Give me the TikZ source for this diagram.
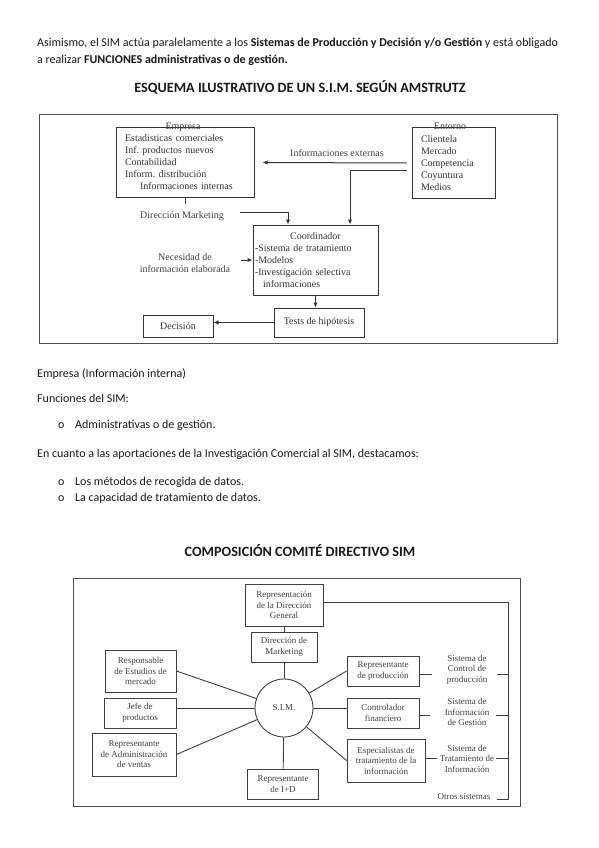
\documentclass[tikz,border=0pt]{standalone}
\usepackage{fontspec}
\setmainfont{Carlito}
\newfontfamily\tnr{Liberation Serif}
\usetikzlibrary{arrows.meta,calc}
\frenchspacing
\begin{document}
\begin{tikzpicture}[x=1pt,y=-1pt,
  body/.style={anchor=base west, inner sep=0, font=\fontsize{12}{14}\selectfont, text=black!90},
  ttl/.style={anchor=base, inner sep=0, font=\bfseries\fontsize{14.2}{16}\selectfont, text=black!90},
  frm/.style={draw=black!70, line width=0.9pt},
  bx/.style={draw=black!80, line width=1pt, inner sep=0, align=left, font=\tnr\fontsize{10}{12}\selectfont, text=black!80},
  lbl/.style={inner sep=0, align=center, font=\tnr\fontsize{10}{12}\selectfont, text=black!75},
  bxb/.style={draw=black!75, line width=0.9pt, inner sep=0, align=center, font=\tnr\fontsize{9}{10.5}\selectfont, text=black!75},
  lbb/.style={inner sep=0, align=center, font=\tnr\fontsize{9}{10.5}\selectfont, text=black!75},
  ln/.style={draw=black!75, line width=0.9pt},
  arr/.style={draw=black!80, line width=1pt, -{Latex[length=5pt,width=4.5pt]}}
]
\useasboundingbox (0,0) rectangle (599,848);
\fill[white] (0,0) rectangle (599,848);

% ---------- text above ----------
\node[body] (t1) at (37,47) {Asimismo, el SIM actúa paralelamente a los \textbf{Sistemas de Producción y Decisión y/o Gestión} y está obligado};
\node[body] (t2) at (37,64) {a realizar \textbf{FUNCIONES administrativas o de gestión.}};
\node[ttl] (h1) at (300,93) {ESQUEMA ILUSTRATIVO DE UN S.I.M. SEGÚN AMSTRUTZ};

% ---------- diagram 1 ----------
\node[frm, minimum width=518pt, minimum height=229pt, inner sep=0] (f1) at (298.5,228.5) {};

\node[bx, minimum width=138pt, minimum height=69pt, text width=120pt] (emp) at (185,162.5)
  {Estadisticas comerciales\\Inf. productos nuevos\\Contabilidad\\Inform. distribución\\\hspace*{15pt}Informaciones internas};
\node[lbl, anchor=base] (lemp) at (183,129) {Empresa};

\node[bx, minimum width=83pt, minimum height=70pt, text width=65pt] (ent) at (453.5,163)
  {Clientela\\Mercado\\Competencia\\Coyuntura\\Medios};
\node[lbl, anchor=base] (lent) at (450,129) {Entorno};

\node[bx, minimum width=125pt, minimum height=70pt, text width=121pt] (coord) at (315.5,260)
  {\makebox[121pt][c]{Coordinador}\\-Sistema de tratamiento\\-Modelos\\-Investigación selectiva\\\hspace*{8pt}informaciones};

\node[bx, minimum width=90pt, minimum height=29pt, align=center] (tests) at (319,322.5) {Tests de hipótesis};
\node[bx, minimum width=70pt, minimum height=22pt, align=center] (dec) at (178,326) {Decisión};

\node[lbl] (lie) at (337,153) {Informaciones externas};
\node[lbl] (ldm) at (182,216) {Dirección Marketing};
\node[lbl] (lnec) at (185,263) {Necesidad de\\información elaborada};

\coordinate (dmA) at (240,212);
\coordinate (necA) at (241,260);

\draw[ln] (emp.south) -- ++(0,6);
\draw[arr] ([xshift=-5pt]ent.west) -- ([xshift=8pt]emp.east);
\draw[arr] ([xshift=-5pt,yshift=-7pt]ent.west) -| ([xshift=34.5pt]coord.north);
\draw[arr] (dmA) -| ([xshift=-27.5pt]coord.north);
\draw[arr] (necA) -- (coord.west);
\draw[arr] (coord.south) -- (coord.south |- tests.north);
\draw[arr] (tests.west) -- (tests.west -| dec.east);

% ---------- text middle ----------
\node[body] (t3) at (37,377) {Empresa (Información interna)};
\node[body] (t4) at (37,402) {Funciones del SIM:};
\node[body] (b1) at (58,428) {o};
\node[body] (t5) at (75,428) {Administrativas o de gestión.};
\node[body] (t6) at (37,457) {En cuanto a las aportaciones de la Investigación Comercial al SIM, destacamos:};
\node[body] (b2) at (58,485) {o};
\node[body] (t7) at (75,485) {Los métodos de recogida de datos.};
\node[body] (b3) at (58,501) {o};
\node[body] (t8) at (75,501) {La capacidad de tratamiento de datos.};

\node[ttl] (h2) at (300,556) {COMPOSICIÓN COMITÉ DIRECTIVO SIM};

% ---------- diagram 2 ----------
\node[frm, minimum width=447pt, minimum height=228pt, inner sep=0] (f2) at (296.5,692) {};

\node[bxb, minimum width=78pt, minimum height=42pt] (rdg) at (284,605) {Representación\\de la Dirección\\General};
\node[bxb, minimum width=66pt, minimum height=30pt] (dmk) at (284,647) {Dirección de\\Marketing};
\node[bxb, circle, minimum size=58pt] (sim) at (284,708) {S.I.M.};
\node[bxb, minimum width=71pt, minimum height=30pt] (rid) at (283,784) {Representante\\de I+D};

\node[bxb, minimum width=71pt, minimum height=42pt] (rem) at (140.5,671) {Responsable\\de Estudios de\\mercado};
\node[bxb, minimum width=72pt, minimum height=30pt] (jp) at (140,713) {Jefe de\\productos};
\node[bxb, minimum width=84pt, minimum height=43pt] (rav) at (134,754.5) {Representante\\de Administración\\de ventas};

\node[bxb, minimum width=72pt, minimum height=30pt] (rpr) at (383,671) {Representante\\de producción};
\node[bxb, minimum width=72pt, minimum height=30pt] (cf) at (383,713) {Controlador\\financiero};
\node[bxb, minimum width=78pt, minimum height=43pt] (esp) at (386,760.5) {Especialistas de\\tratamiento de la\\información};

\node[lbb] (scp) at (467,669.5) {Sistema de\\Control de\\producción};
\node[lbb] (sig) at (467,712) {Sistema de\\Información\\de Gestión};
\node[lbb] (stg) at (467,758.5) {Sistema de\\Tratamiento de\\Información};
\node[lbb] (otr) at (464,797) {Otros sistemas};

\draw[ln] (rdg) -- (dmk);
\draw[ln] (dmk) -- (sim);
\draw[ln] (sim) -- (rid);
\draw[ln] (sim) -- (rem.east);
\draw[ln] (sim) -- (jp.east |- sim.west);
\draw[ln] (sim) -- (rav.east);
\draw[ln] (sim) -- (rpr.west);
\draw[ln] (sim) -- (cf.west |- sim.east);
\draw[ln] (sim) -- (esp.west);

\coordinate (bT) at (508,602);
\coordinate (bB) at (508,799);
\draw[ln] ([yshift=3pt]rdg.east) -- (bT) -- (bB) -- ([xshift=6pt]otr.east |- bB);
\draw[ln] ([yshift=-3pt]rpr.east) -- ++(13,0);
\draw[ln] ([yshift=-2pt]cf.east) -- ++(11,0);
\draw[ln] ([yshift=2.5pt]esp.east) -- ++(12,0);
\draw[ln] ([xshift=10pt,yshift=-4.5pt]scp.east) -- ([yshift=-4.5pt]scp.east -| bT);
\draw[ln] ([xshift=7pt,yshift=-3pt]sig.east) -- ([yshift=-3pt]sig.east -| bT);
\draw[ln] ([xshift=2pt]stg.east) -- (stg.east -| bT);
\end{tikzpicture}
\end{document}
